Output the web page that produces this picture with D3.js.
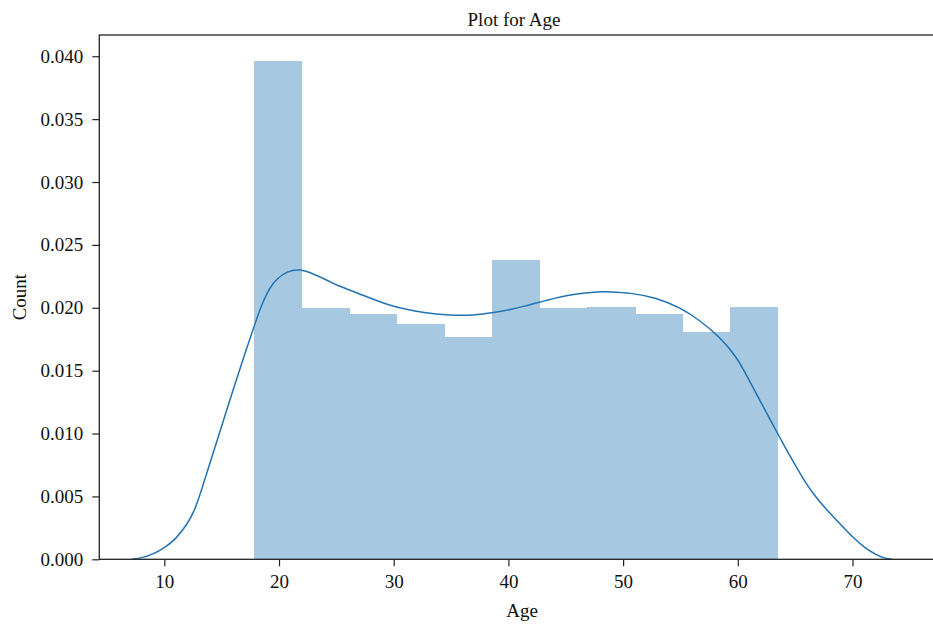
<!DOCTYPE html>
<html>
<head>
<meta charset="utf-8">
<script src="https://cdn.jsdelivr.net/npm/d3@7"></script>
<style>
  html, body { margin: 0; padding: 0; background: #fff; }
  svg { display: block; }
  text { font-family: "Liberation Serif", "DejaVu Serif", serif; fill: #111; }
</style>
</head>
<body>
<div id="chart"></div>
<script>
// Histogram of ages (density-normalised) with a kernel density estimate on top.
const binEdges = [17.8, 21.96, 26.11, 30.27, 34.42, 38.58, 42.73, 46.89, 51.04, 55.2, 59.35, 63.5];
const binDensity = [0.0396, 0.0200, 0.0195, 0.0187, 0.0177, 0.0238, 0.0200, 0.0201, 0.0195, 0.0181, 0.0201];

// KDE curve sampled along the age axis
const kdeAge = [7.2, 8.0, 9.0, 10.0, 11.0, 12.0, 12.6, 13.1, 14.0, 15.0, 16.0, 17.0, 18.0, 18.6, 19.2,
  19.8, 20.7, 21.8, 23.0, 24.4, 25.0, 26.8, 29.7, 32.6, 34.9, 36.9, 38.7, 40.4, 41.3, 43.3, 45.7, 48.0,
  48.6, 50.6, 52.9, 55.0, 56.7, 58.4, 59.9, 60.9, 62.0, 63.0, 64.0, 65.0, 65.7, 66.5, 67.4, 68.3,
  69.25, 70.2, 71.1, 72.0, 72.7, 73.4];
const kdeDensity = [0, 0.0001, 0.0004, 0.0009, 0.0016, 0.0028, 0.0038, 0.0051, 0.0077, 0.0106,
  0.0135, 0.0163, 0.0190, 0.0205, 0.0216, 0.0223, 0.0229, 0.0231, 0.0227, 0.0221, 0.0218, 0.0212,
  0.0201, 0.0196, 0.0194, 0.0194, 0.0196, 0.0199, 0.0201, 0.0206, 0.0211, 0.0213, 0.02127, 0.0212,
  0.0208, 0.0200, 0.0190, 0.0177, 0.0161, 0.0144, 0.0125, 0.0108, 0.0091, 0.0075, 0.0064, 0.0053,
  0.0043, 0.0034, 0.0025, 0.0016, 0.0009, 0.0004, 0.0001, 0];

const xTicks = [10, 20, 30, 40, 50, 60, 70];
const yTicks = [0.000, 0.005, 0.010, 0.015, 0.020, 0.025, 0.030, 0.035, 0.040];

const W = 933, H = 624;
const margin = { top: 35, left: 99.3 };
const innerW = 833.7;          // x-axis length; the right spine sits at the page edge
const innerH = 559.3 - margin.top;

const svg = d3.select("#chart").append("svg").attr("width", W).attr("height", H);
const g = svg.append("g").attr("transform", `translate(${margin.left},${margin.top})`);

const x = d3.scaleLinear().domain([4.33, 77.02]).range([0, innerW]);
const y = d3.scaleLinear().domain([0, 0.04169]).range([innerH, 0]);

// Histogram bars
const bins = binDensity.map((d, i) => ({ x0: binEdges[i], x1: binEdges[i + 1], v: d }));
g.append("g").attr("shape-rendering", "crispEdges")
  .selectAll("rect").data(bins).join("rect")
  .attr("x", d => x(d.x0))
  .attr("y", d => y(d.v))
  .attr("width", d => x(d.x1) - x(d.x0) + 0.5)
  .attr("height", d => y(0) - y(d.v))
  .attr("fill", "#a6c9e1");

// KDE line
const pts = kdeAge.map((a, i) => [a, kdeDensity[i]]);
g.append("path").datum(pts)
  .attr("fill", "none")
  .attr("stroke", "#2273b3")
  .attr("stroke-width", 1.5)
  .attr("d", d3.line().x(d => x(d[0])).y(d => y(d[1])).curve(d3.curveBasis));

// Axes
const xAxis = g.append("g").attr("transform", `translate(0,${innerH})`)
  .call(d3.axisBottom(x).tickValues(xTicks).tickFormat(d3.format("d")).tickSize(7).tickPadding(8));
const yAxis = g.append("g")
  .call(d3.axisLeft(y).tickValues(yTicks).tickFormat(d3.format(".3f")).tickSize(7).tickPadding(9));

[xAxis, yAxis].forEach(ax => {
  ax.select(".domain").remove();
  ax.selectAll(".tick line").attr("stroke", "#222").attr("stroke-width", 1.2);
  ax.selectAll(".tick text").attr("font-size", 19).attr("fill", "#111")
    .style("font-family", '"Liberation Serif", serif');
});

// Frame (spines)
g.append("rect")
  .attr("x", 0).attr("y", 0)
  .attr("width", innerW + 4).attr("height", innerH)
  .attr("fill", "none").attr("stroke", "#222").attr("stroke-width", 1.3);

// Labels
svg.append("text")
  .attr("x", 514).attr("y", 26)
  .attr("text-anchor", "middle").attr("font-size", 19)
  .text("Plot for Age");

svg.append("text")
  .attr("x", 522).attr("y", 617)
  .attr("text-anchor", "middle").attr("font-size", 19)
  .text("Age");

svg.append("text")
  .attr("transform", `translate(26,${margin.top + innerH / 2}) rotate(-90)`)
  .attr("text-anchor", "middle").attr("font-size", 19)
  .text("Count");
</script>
</body>
</html>
